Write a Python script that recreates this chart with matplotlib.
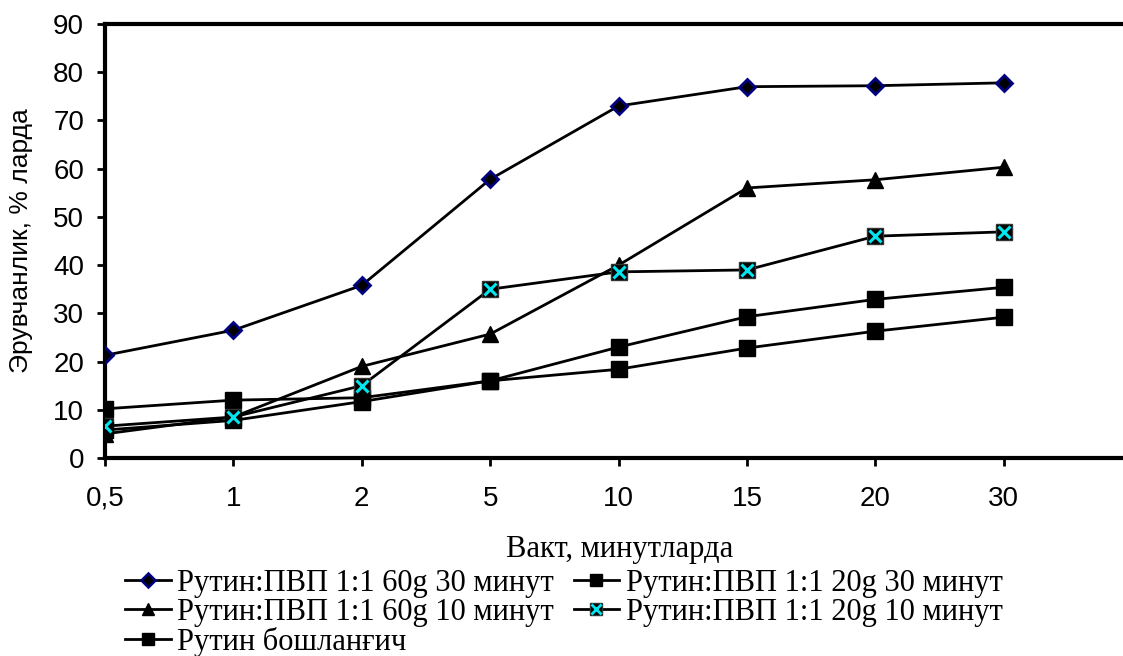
import matplotlib
matplotlib.use("Agg")
import matplotlib.pyplot as plt
from matplotlib.lines import Line2D

x_labels = ["0,5", "1", "2", "5", "10", "15", "20", "30"]

s_60_30 = [21.3, 26.5, 35.8, 57.8, 73.0, 77.0, 77.2, 77.8]
s_20_30 = [10.2, 12.0, 12.5, 16.0, 23.0, 29.3, 32.9, 35.4]
s_60_10 = [5.0, 8.5, 19.0, 25.7, 40.0, 56.0, 57.7, 60.3]
s_20_10 = [6.6, 8.5, 15.0, 35.0, 38.6, 39.0, 46.0, 46.9]
s_init = [5.8, 7.8, 11.7, 16.0, 18.4, 22.8, 26.3, 29.2]

lab_60_30 = "Рутин:ПВП 1:1 60g 30 минут"
lab_20_30 = "Рутин:ПВП 1:1 20g 30 минут"
lab_60_10 = "Рутин:ПВП 1:1 60g 10 минут"
lab_20_10 = "Рутин:ПВП 1:1 20g 10 минут"
lab_init = "Рутин бошланғич"

sans = ["Liberation Sans", "DejaVu Sans"]
serif = ["Liberation Serif", "DejaVu Serif"]

fig = plt.figure(figsize=(11.23, 6.56), dpi=100)
ax = fig.add_axes([105 / 1123, 1 - 458 / 656, 1 - 105 / 1123, (458 - 24) / 656])

xs = list(range(len(x_labels)))
lw = 2.0

ax.plot(xs, s_60_30, color="black", lw=lw, marker="D", ms=8,
        mfc="black", mec="#000080", mew=2, zorder=5)
ax.plot(xs, s_20_30, color="black", lw=lw, marker="s", ms=11,
        mfc="black", mec="black", zorder=4)
ax.plot(xs, s_60_10, color="black", lw=lw, marker="^", ms=11,
        mfc="black", mec="black", zorder=4)
ax.plot(xs, s_20_10, color="black", lw=lw, marker="s", ms=11,
        mfc="black", mec="#333333", zorder=4)
ax.plot(xs, s_20_10, lw=0, marker="x", ms=9, mec="#00e5ee", mew=2.2, zorder=6)
ax.plot(xs, s_init, color="black", lw=lw, marker="s", ms=11,
        mfc="black", mec="black", zorder=4)

ax.set_xlim(0, (1123 - 105) / 128.4)
ax.set_ylim(0, 90)
ax.set_yticks(range(0, 91, 10))
ax.set_xticks(xs)
ax.set_xticklabels(x_labels)
ax.tick_params(axis="both", width=2, length=6, direction="out", colors="black",
               labelsize=20)
ax.tick_params(axis="x", pad=14)
ax.tick_params(axis="y", pad=9)
for lbl in ax.get_xticklabels() + ax.get_yticklabels():
    lbl.set_fontfamily(sans)

for side in ["left", "bottom", "top"]:
    ax.spines[side].set_linewidth(3)
ax.spines["right"].set_visible(False)

ax.set_ylabel("Эрувчанлик, % ларда", fontfamily=sans, fontsize=19)
ax.yaxis.set_label_coords(-(105 - 33) / (1123 - 105), 0.5)
fig.text(620 / 1123, 1 - 550 / 656, "Вакт, минутларда", family=serif,
         fontsize=22, ha="center", va="center")

cross_h = (Line2D([], [], color="black", lw=lw, marker="s", ms=9, mfc="black", mec="#333333"),
           Line2D([], [], lw=0, marker="x", ms=7, mec="#00e5ee", mew=2))
handles = [Line2D([], [], color="black", lw=lw, marker="D", ms=7, mfc="black", mec="#000080", mew=1.8),
           Line2D([], [], color="black", lw=lw, marker="^", ms=9, mfc="black", mec="black"),
           Line2D([], [], color="black", lw=lw, marker="s", ms=9, mfc="black", mec="black"),
           Line2D([], [], color="black", lw=lw, marker="s", ms=9, mfc="black", mec="black"),
           cross_h]
labels = [lab_60_30, lab_60_10, lab_init, lab_20_30, lab_20_10]
leg = fig.legend(handles, labels, loc="upper left", bbox_to_anchor=(125 / 1123, 1 - 569 / 656),
                 ncol=2, frameon=False, prop={"family": serif, "size": 22},
                 handlelength=1.5, handletextpad=0.2, columnspacing=0.65,
                 labelspacing=0.0, borderpad=0, borderaxespad=0)

fig.savefig("out.png", dpi=100)
